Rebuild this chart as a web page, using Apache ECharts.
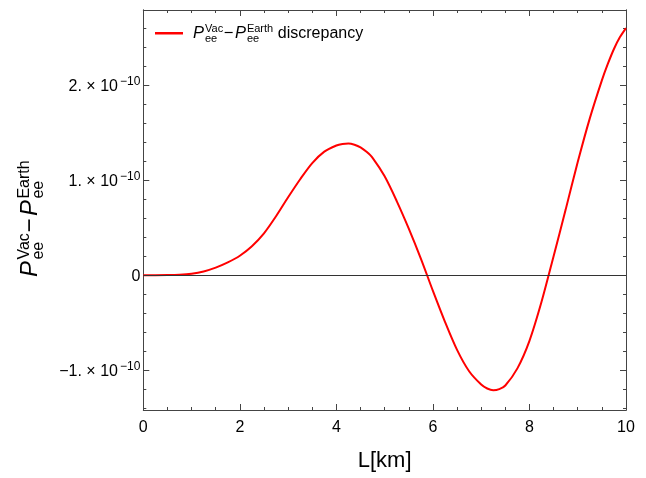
<!DOCTYPE html>
<html>
<head>
<meta charset="utf-8">
<script src="https://cdn.jsdelivr.net/npm/echarts@6/dist/echarts.min.js"></script>
<style>
html,body{margin:0;padding:0;background:#fff;}
#c{width:646px;height:478px;}
</style>
</head>
<body>
<div id="c"></div>
<script>
// ---- data (discrepancy values in units of 1e-10) ----
const L_KM = [0,0.25,0.5,0.75,1,1.25,1.5,1.75,2,2.25,2.5,2.75,3,3.25,3.5,3.75,4,4.125,4.25,4.375,4.5,4.625,4.75,5,5.25,5.5,5.75,6,6.25,6.5,6.75,7,7.125,7.25,7.375,7.5,7.75,8,8.25,8.5,8.75,9,9.25,9.5,9.625,9.75,9.875,10];
const DISC = [0,0,0.001,0.005,0.016,0.040,0.080,0.135,0.205,0.305,0.44,0.62,0.82,1.01,1.18,1.30,1.365,1.381,1.386,1.373,1.345,1.298,1.235,1.04,0.78,0.49,0.175,-0.165,-0.49,-0.785,-1.01,-1.15,-1.192,-1.21,-1.198,-1.16,-0.98,-0.69,-0.28,0.20,0.69,1.19,1.65,2.05,2.225,2.38,2.505,2.60];
const Y_MAJOR = [-1,0,1,2];
const Y_MINOR = [-1.4,-1.2,-0.8,-0.6,-0.4,-0.2,0.2,0.4,0.6,0.8,1.2,1.4,1.6,1.8,2.2,2.4,2.6];
const X_TICKS = [0,2,4,6,8,10];
const SERIES_NAME = 'discrepancy';
const X_NAME = 'L[km]';

const Y_MIN = -1.418, Y_MAX = 2.79;
const FONT = 'Liberation Sans';
const AX = '#444';

const chart = echarts.init(document.getElementById('c'), null, {renderer:'canvas'});

// math-like label builder (P with stacked sub/superscripts)
const mctx = document.createElement('canvas').getContext('2d');
function tw(t, fs, it){ mctx.font = (it?'italic ':'') + fs + 'px "' + FONT + '"'; return mctx.measureText(t).width; }
function txt(t, x, base, fs, it){
  return {type:'text', x:x, y: base - 0.3465*fs, silent:true,
    style:{text:t, fontSize:fs, fontStyle: it?'italic':'normal', fontFamily:FONT, fill:'#000', textAlign:'left', verticalAlign:'middle'}};
}
function buildP(M, S, extra, extraFs){
  const out = []; let x = 0;
  const sup = -0.39*M, sub = 0.2*M;
  function Pterm(supT){
    out.push(txt('P', x, 0, M, true));
    x += tw('P', M, true) + 0.06*M;
    out.push(txt(supT, x, sup, S, false));
    out.push(txt('ee', x, sub, S, false));
    x += Math.max(tw(supT,S,false), tw('ee',S,false)) + 0.03*M;
  }
  Pterm('Vac');
  out.push(txt('\u2212', x, 0, M, false));
  x += tw('\u2212', M, false) + 0.1*M;
  Pterm('Earth');
  if (extra){ x += 0.25*M; out.push(txt(extra, x, 0, extraFs, false)); }
  return out;
}

function yLabel(v){
  if (Math.abs(v) < 1e-9) return '{m|0}';
  const n = Math.round(v);
  return '{m|' + (n<0?'\u2212':'') + Math.abs(n) + '. \u00d7 10}{s|\u221210}';
}

const commonX = {type:'value', min:0, max:10, interval:2, splitLine:{show:false},
  axisLine:{show:true, onZero:false, lineStyle:{color:AX, width:1}},
  axisTick:{show:true, inside:true, length:6, lineStyle:{color:AX}},
  minorTick:{show:true, splitNumber:4, length:3, lineStyle:{color:AX}}};
function yAx(pos, vals, len, labels){
  return {type:'value', position:pos, min:Y_MIN, max:Y_MAX, splitLine:{show:false},
    axisLine:{show:true, onZero:false, lineStyle:{color:AX, width:1}},
    axisTick:{show:true, inside:true, length:len, customValues:vals, lineStyle:{color:AX}},
    axisLabel: labels ? {show:true, customValues:Y_MAJOR, margin:3, formatter:yLabel,
      rich:{m:{fontSize:16, fontFamily:FONT, color:'#000', lineHeight:19, verticalAlign:'bottom'},
            s:{fontSize:12, fontFamily:FONT, color:'#000', lineHeight:19, verticalAlign:'top', padding:[0,0,0,2]}}} : {show:false}};
}

const option = {
  animation:false,
  backgroundColor:'#fff',
  grid:{left:143.3, right:20, top:10, bottom:68, containLabel:false},
  legend:{show:true, left:155, top:32, padding:0, itemWidth:28, itemHeight:2.5, icon:'rect',
    formatter:function(){return '';}, textStyle:{fontSize:2},
    data:[SERIES_NAME]},
  xAxis:[
    Object.assign({}, commonX, {position:'bottom', name:X_NAME, nameLocation:'middle', nameGap:40,
      nameTextStyle:{fontSize:22, fontFamily:FONT, color:'#000'},
      axisLabel:{show:true, margin:10, fontSize:16, fontFamily:FONT, color:'#000', customValues:X_TICKS}}),
    Object.assign({}, commonX, {position:'top', axisLabel:{show:false}})
  ],
  yAxis:[
    yAx('left', Y_MAJOR, 6, true),
    yAx('left', Y_MINOR, 3, false),
    yAx('right', Y_MAJOR, 6, false),
    yAx('right', Y_MINOR, 3, false)
  ],
  series:[{
    name:SERIES_NAME, type:'line', xAxisIndex:0, yAxisIndex:0,
    data: L_KM.map((l,i)=>[l, DISC[i]]),
    smooth:0.3, showSymbol:false, symbol:'none',
    lineStyle:{color:'#ff0000', width:2}, itemStyle:{color:'#ff0000'},
    markLine:{silent:true, symbol:'none', label:{show:false},
      lineStyle:{color:'#333', width:1, type:'solid'}, data:[{yAxis:0}]},
    z:3
  }],
  graphic:[
    {type:'group', x:193, y:39, children: buildP(16.5, 11, 'discrepancy', 16)},
    {type:'group', x:39, y:277, rotation:Math.PI/2, children: buildP(24, 16)}
  ]
};
chart.setOption(option);
</script>
</body>
</html>
